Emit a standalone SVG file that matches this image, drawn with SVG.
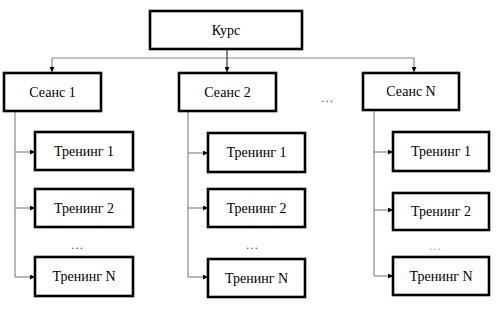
<svg xmlns="http://www.w3.org/2000/svg" width="500" height="309" viewBox="0 0 500 309">
<defs>
<marker id="ah" viewBox="0 0 10 10" refX="10" refY="5" markerWidth="5" markerHeight="5" markerUnits="userSpaceOnUse" orient="auto">
<path d="M0,0 L10,5 L0,10 z" fill="#000"/>
</marker>
<style>
.box{fill:#fff;stroke:#000;stroke-width:2.6}
.t{font-family:'Liberation Serif','DejaVu Serif',serif;font-size:14px;fill:#000;text-anchor:middle}
.c{fill:none;stroke:#888;stroke-width:1.2}
.d{font-family:'Liberation Serif','DejaVu Serif',serif;font-size:13px;fill:#555;text-anchor:middle}
</style>
</defs>
<rect width="500" height="309" fill="#fff"/>
<g id="connectors">
<path class="c" d="M52,58 H414"/>
<path class="c" d="M52,58 V72" marker-end="url(#ah)"/>
<path class="c" d="M414,58 V72" marker-end="url(#ah)"/>
<path d="M227,49 V72" stroke="#333" stroke-width="1.2" marker-end="url(#ah)"/>
<path class="c" d="M15,111 V277"/>
<path class="c" d="M15,152 H35" marker-end="url(#ah)"/>
<path class="c" d="M15,208 H35" marker-end="url(#ah)"/>
<path class="c" d="M15,277 H35" marker-end="url(#ah)"/>
<path class="c" d="M188,111 V277"/>
<path class="c" d="M188,153 H208" marker-end="url(#ah)"/>
<path class="c" d="M188,208 H208" marker-end="url(#ah)"/>
<path class="c" d="M188,277 H208" marker-end="url(#ah)"/>
<path class="c" d="M374,111 V276"/>
<path class="c" d="M374,152 H393" marker-end="url(#ah)"/>
<path class="c" d="M374,210 H393" marker-end="url(#ah)"/>
<path class="c" d="M374,276 H393" marker-end="url(#ah)"/>
</g>
<g id="kurs"><rect class="box" x="150" y="11" width="152" height="38"/><text class="t" x="226" y="35">Курс</text></g>
<g id="seans1"><rect class="box" x="4" y="73" width="97" height="38"/><text class="t" x="52.5" y="97">Сеанс 1</text></g>
<g id="seans2"><rect class="box" x="179" y="73" width="97" height="38"/><text class="t" x="227.5" y="97">Сеанс 2</text></g>
<g id="seansN"><rect class="box" x="363" y="73" width="96" height="37"/><text class="t" x="411" y="96">Сеанс N</text></g>
<text class="d" x="327" y="102">…</text>
<g id="t1-1"><rect class="box" x="35" y="132" width="98" height="38"/><text class="t" x="84" y="156">Тренинг 1</text></g>
<g id="t1-2"><rect class="box" x="35" y="189" width="98" height="38"/><text class="t" x="84" y="213">Тренинг 2</text></g>
<text class="d" x="77" y="249">…</text>
<g id="t1-N"><rect class="box" x="35" y="257" width="98" height="39"/><text class="t" x="84" y="281">Тренинг N</text></g>
<g id="t2-1"><rect class="box" x="208" y="133" width="97" height="39"/><text class="t" x="256.5" y="157">Тренинг 1</text></g>
<g id="t2-2"><rect class="box" x="208" y="189" width="97" height="38"/><text class="t" x="256.5" y="213">Тренинг 2</text></g>
<text class="d" x="252" y="249">…</text>
<g id="t2-N"><rect class="box" x="208" y="259" width="97" height="38"/><text class="t" x="256.5" y="283">Тренинг N</text></g>
<g id="t3-1"><rect class="box" x="393" y="132" width="96" height="39"/><text class="t" x="441" y="156">Тренинг 1</text></g>
<g id="t3-2"><rect class="box" x="393" y="193" width="96" height="37"/><text class="t" x="441" y="216">Тренинг 2</text></g>
<text class="d" x="435" y="250" style="fill:#aaa">…</text>
<g id="t3-N"><rect class="box" x="393" y="257" width="96" height="38"/><text class="t" x="441" y="281">Тренинг N</text></g>
</svg>
